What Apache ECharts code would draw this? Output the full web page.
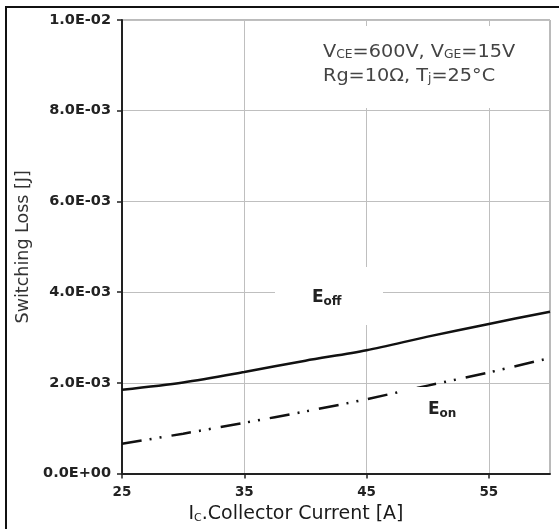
<!DOCTYPE html>
<html><head><meta charset="utf-8">
<script src="https://cdn.jsdelivr.net/npm/echarts@6/dist/echarts.min.js"></script>
<style>html,body{margin:0;padding:0;background:#fff}#c{width:559px;height:529px}</style>
</head><body><div id="c"></div>
<script>
const xValues = [25, 30, 35, 40, 45, 50, 55, 60];
const eoffValues = [1.85e-3, 2.01e-3, 2.24e-3, 2.49e-3, 2.72e-3, 3.02e-3, 3.30e-3, 3.57e-3];
const eonValues = [0.66e-3, 0.88e-3, 1.12e-3, 1.37e-3, 1.64e-3, 1.94e-3, 2.23e-3, 2.55e-3];
const xTickLabels = [25, 35, 45, 55];
const yTickLabels = ['0.0E+00', '2.0E-03', '4.0E-03', '6.0E-03', '8.0E-03', '1.0E-02'];

const chart = echarts.init(document.getElementById('c'), null, {renderer: 'canvas'});
const FONT = 'DejaVu Sans';
const option = {
  animation: false,
  backgroundColor: '#fff',
  grid: {left: 122, top: 20, right: 9, bottom: 55, show: true, borderColor: '#777', borderWidth: 1, backgroundColor: 'transparent'},
  xAxis: {
    type: 'value', min: 25, max: 60, interval: 5,
    axisLine: {lineStyle: {color: '#222', width: 2}},
    axisTick: {show: true, length: 5, inside: false, customValues: xTickLabels, lineStyle: {color: '#222', width: 1.5}},
    axisLabel: {customValues: xTickLabels, margin: 12, fontFamily: FONT, fontWeight: 'bold', fontSize: 13.5, color: '#222'},
    splitLine: {show: true, lineStyle: {color: '#bfbfbf', width: 1}},
    name: '{m|I}{s|C}{m|.Collector Current [A]}',
    nameLocation: 'middle', nameGap: 24,
    nameTextStyle: {padding: [0, 80, 0, 0], rich: {m: {fontFamily: FONT, fontSize: 19, color: '#1a1a1a'}, s: {fontFamily: FONT, fontSize: 11, color: '#1a1a1a', padding: [9, 0, 0, 0]}}}
  },
  yAxis: {
    type: 'value', min: 0, max: 0.01, interval: 0.002,
    axisLine: {show: true, lineStyle: {color: '#222', width: 2}},
    axisTick: {show: true, length: 5, lineStyle: {color: '#222', width: 1.5}},
    axisLabel: {margin: 11, fontFamily: FONT, fontWeight: 'bold', fontSize: 14.5, color: '#222',
      formatter: v => yTickLabels[Math.round(v / 0.002)]},
    splitLine: {show: true, lineStyle: {color: '#bfbfbf', width: 1}},
    name: 'Switching Loss [J]', nameLocation: 'middle', nameGap: 88,
    nameTextStyle: {fontFamily: FONT, fontSize: 17.5, color: '#333'}
  },
  series: [
    {name: 'Eoff', type: 'line', data: xValues.map((x, i) => [x, eoffValues[i]]), smooth: 0.3, symbol: 'none',
      lineStyle: {color: '#111', width: 2.5}, z: 5},
    {name: 'Eon', type: 'line', data: xValues.map((x, i) => [x, eonValues[i]]), smooth: 0.3, symbol: 'none',
      lineStyle: {color: '#111', width: 2.5, type: [20, 8, 2, 8, 2, 10]}, z: 5}
  ],
  graphic: [
    {type: 'line', shape: {x1: 5, y1: 7, x2: 559, y2: 7}, style: {stroke: '#111', lineWidth: 2}},
    {type: 'line', shape: {x1: 6, y1: 7, x2: 6, y2: 529}, style: {stroke: '#111', lineWidth: 2}},
    {type: 'rect', shape: {x: 310, y: 26, width: 236, height: 82}, style: {fill: '#fff'}, z: 1},
    {type: 'text', x: 323, y: 52, z: 10, scaleX: 1.07, style: {
      text: '{m|V}{s|CE}{m|=600V, V}{s|GE}{m|=15V}', verticalAlign: 'middle',
      rich: {m: {fontFamily: FONT, fontSize: 18, fill: '#444'}, s: {fontFamily: FONT, fontSize: 11.5, fill: '#444', padding: [7, 0, 0, 0]}}}},
    {type: 'text', x: 323, y: 76, z: 10, scaleX: 1.07, style: {
      text: '{m|Rg=10Ω, T}{s|j}{m|=25°C}', verticalAlign: 'middle',
      rich: {m: {fontFamily: FONT, fontSize: 18, fill: '#444'}, s: {fontFamily: FONT, fontSize: 11.5, fill: '#444', padding: [7, 0, 0, 0]}}}},
    {type: 'rect', shape: {x: 275, y: 267, width: 108, height: 58}, style: {fill: '#fff'}, z: 1},
    {type: 'text', x: 312, y: 298, z: 10, style: {
      text: '{m|E}{s|off}', verticalAlign: 'middle',
      rich: {m: {fontFamily: FONT, fontWeight: 'bold', fontSize: 17, fill: '#222'}, s: {fontFamily: FONT, fontWeight: 'bold', fontSize: 12, fill: '#222', padding: [8, 0, 0, 0]}}}},
    {type: 'rect', shape: {x: 402, y: 387, width: 68, height: 49}, style: {fill: '#fff'}, z: 6},
    {type: 'text', x: 428, y: 410, z: 10, style: {
      text: '{m|E}{s|on}', verticalAlign: 'middle',
      rich: {m: {fontFamily: FONT, fontWeight: 'bold', fontSize: 17, fill: '#222'}, s: {fontFamily: FONT, fontWeight: 'bold', fontSize: 12, fill: '#222', padding: [8, 0, 0, 0]}}}}
  ]
};
chart.setOption(option);
</script></body></html>
